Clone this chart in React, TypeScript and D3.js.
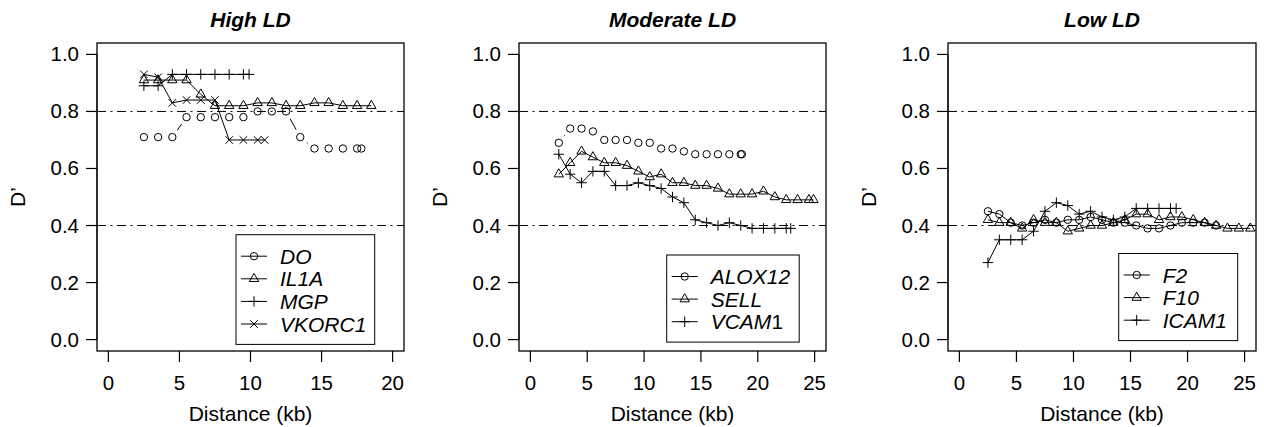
import React from "react";
import * as d3 from "d3";

// ---------- Data ----------
// High LD
const doX = [2.5, 3.5, 4.5, 5.5, 6.5, 7.5, 8.5, 9.5, 10.5, 11.5, 12.5, 13.5, 14.5, 15.5, 16.5, 17.5, 17.8];
const doY = [0.71, 0.71, 0.71, 0.78, 0.78, 0.78, 0.78, 0.78, 0.8, 0.8, 0.8, 0.71, 0.67, 0.67, 0.67, 0.67, 0.67];
const il1aX = [2.5, 3.5, 4.5, 5.5, 6.5, 7.5, 8.5, 9.5, 10.5, 11.5, 12.5, 13.5, 14.5, 15.5, 16.5, 17.5, 18.5];
const il1aY = [0.91, 0.91, 0.91, 0.91, 0.86, 0.82, 0.82, 0.82, 0.83, 0.83, 0.82, 0.82, 0.83, 0.83, 0.82, 0.82, 0.82];
const mgpX = [2.5, 3.5, 4.5, 5.5, 6.5, 7.5, 8.5, 9.5, 9.9];
const mgpY = [0.89, 0.89, 0.93, 0.93, 0.93, 0.93, 0.93, 0.93, 0.93];
const vkorc1X = [2.5, 3.5, 4.5, 5.5, 6.5, 7.5, 8.5, 9.5, 10.5, 11.0];
const vkorc1Y = [0.93, 0.92, 0.83, 0.84, 0.84, 0.84, 0.7, 0.7, 0.7, 0.7];

// Moderate LD
const alox12X = [2.5, 3.5, 4.5, 5.5, 6.5, 7.5, 8.5, 9.5, 10.5, 11.5, 12.5, 13.5, 14.5, 15.5, 16.5, 17.5, 18.5, 18.6];
const alox12Y = [0.69, 0.74, 0.74, 0.73, 0.7, 0.7, 0.7, 0.69, 0.69, 0.67, 0.67, 0.66, 0.65, 0.65, 0.65, 0.65, 0.65, 0.65];
const sellX = [2.5, 3.5, 4.5, 5.5, 6.5, 7.5, 8.5, 9.5, 10.5, 11.5, 12.5, 13.5, 14.5, 15.5, 16.5, 17.5, 18.5, 19.5, 20.5, 21.5, 22.5, 23.5, 24.5, 24.9];
const sellY = [0.58, 0.62, 0.66, 0.64, 0.62, 0.62, 0.61, 0.59, 0.57, 0.58, 0.55, 0.55, 0.54, 0.54, 0.53, 0.51, 0.51, 0.51, 0.52, 0.5, 0.49, 0.49, 0.49, 0.49];
const vcam1X = [2.5, 3.5, 4.5, 5.5, 6.5, 7.5, 8.5, 9.5, 10.5, 11.5, 12.5, 13.5, 14.5, 15.5, 16.5, 17.5, 18.5, 19.5, 20.5, 21.5, 22.5, 22.9];
const vcam1Y = [0.65, 0.58, 0.55, 0.59, 0.59, 0.54, 0.54, 0.55, 0.54, 0.53, 0.5, 0.48, 0.42, 0.41, 0.4, 0.41, 0.4, 0.39, 0.39, 0.39, 0.39, 0.39];

// Low LD
const f2X = [2.5, 3.5, 4.5, 5.5, 6.5, 7.5, 8.5, 9.5, 10.5, 11.5, 12.5, 13.5, 14.5, 15.5, 16.5, 17.5, 18.5, 19.5, 20.5, 21.5, 22.5];
const f2Y = [0.45, 0.44, 0.41, 0.4, 0.41, 0.42, 0.41, 0.42, 0.42, 0.43, 0.42, 0.41, 0.41, 0.4, 0.39, 0.39, 0.4, 0.41, 0.41, 0.41, 0.4];
const f10X = [2.5, 3.5, 4.5, 5.5, 6.5, 7.5, 8.5, 9.5, 10.5, 11.5, 12.5, 13.5, 14.5, 15.5, 16.5, 17.5, 18.5, 19.5, 20.5, 21.5, 22.5, 23.5, 24.5, 25.5];
const f10Y = [0.42, 0.41, 0.41, 0.39, 0.42, 0.41, 0.41, 0.38, 0.39, 0.4, 0.4, 0.41, 0.42, 0.44, 0.44, 0.42, 0.43, 0.43, 0.42, 0.41, 0.4, 0.39, 0.39, 0.39];
const icam1X = [2.5, 3.5, 4.5, 5.5, 6.5, 7.5, 8.5, 9.5, 10.5, 11.5, 12.5, 13.5, 14.5, 15.5, 16.5, 17.5, 18.5, 19.0];
const icam1Y = [0.27, 0.35, 0.35, 0.35, 0.38, 0.45, 0.48, 0.47, 0.44, 0.45, 0.43, 0.42, 0.43, 0.46, 0.46, 0.46, 0.46, 0.46];

const titles = ["High LD", "Moderate LD", "Low LD"];
const yTicks = [0, 0.2, 0.4, 0.6, 0.8, 1.0];
const refLines = [0.4, 0.8];
const xTicksHigh = [0, 5, 10, 15, 20];
const xTicksOther = [0, 5, 10, 15, 20, 25];

type Sym = "circle" | "triangle" | "plus" | "cross";
interface Series { name: string; xs: number[]; ys: number[]; sym: Sym; gapped: boolean; }

const FONT = "'Liberation Sans', Arial, Helvetica, sans-serif";
const TOP = 43, BOTTOM = 351;

const panels = [
  {
    title: titles[0], left: 97, right: 404, xDomain: [-0.8, 20.8], xTicks: xTicksHigh,
    legend: { x: 236, y: 234.7, w: 138.7 },
    series: [
      { name: "DO", xs: doX, ys: doY, sym: "circle", gapped: true },
      { name: "IL1A", xs: il1aX, ys: il1aY, sym: "triangle", gapped: false },
      { name: "MGP", xs: mgpX, ys: mgpY, sym: "plus", gapped: false },
      { name: "VKORC1", xs: vkorc1X, ys: vkorc1Y, sym: "cross", gapped: false },
    ] as Series[],
  },
  {
    title: titles[1], left: 519, right: 826, xDomain: [-1, 26], xTicks: xTicksOther,
    legend: { x: 666.7, y: 255, w: 132.5 },
    series: [
      { name: "ALOX12", xs: alox12X, ys: alox12Y, sym: "circle", gapped: true },
      { name: "SELL", xs: sellX, ys: sellY, sym: "triangle", gapped: false },
      { name: "VCAM1", xs: vcam1X, ys: vcam1Y, sym: "plus", gapped: false },
    ] as Series[],
  },
  {
    title: titles[2], left: 948, right: 1256, xDomain: [-1, 26], xTicks: xTicksOther,
    legend: { x: 1118.7, y: 253.5, w: 119 },
    series: [
      { name: "F2", xs: f2X, ys: f2Y, sym: "circle", gapped: false },
      { name: "F10", xs: f10X, ys: f10Y, sym: "triangle", gapped: false },
      { name: "ICAM1", xs: icam1X, ys: icam1Y, sym: "plus", gapped: false },
    ] as Series[],
  },
];

function symbolPath(sym: Sym, x: number, y: number): string {
  switch (sym) {
    case "circle": {
      const r = 3.7;
      return `M${x - r},${y}a${r},${r} 0 1,0 ${2 * r},0a${r},${r} 0 1,0 ${-2 * r},0Z`;
    }
    case "triangle":
      return `M${x},${y - 5.4}L${x - 4.7},${y + 2.7}L${x + 4.7},${y + 2.7}Z`;
    case "plus":
      return `M${x - 5.2},${y}H${x + 5.2}M${x},${y - 5.2}V${y + 5.2}`;
    case "cross":
      return `M${x - 3.8},${y - 3.8}L${x + 3.8},${y + 3.8}M${x - 3.8},${y + 3.8}L${x + 3.8},${y - 3.8}`;
  }
}

function Legend({ x, y, w, series }: { x: number; y: number; w: number; series: Series[] }) {
  const rowH = 22.6;
  const h = series.length * rowH + 19.3;
  return (
    <g>
      <rect x={x} y={y} width={w} height={h} fill="white" stroke="black" strokeWidth={1} />
      {series.map((s, i) => {
        const cy = y + 21.5 + i * rowH;
        const lx0 = x + 5, lx1 = x + 31;
        const isVcam = s.name === "VCAM1";
        return (
          <g key={s.name}>
            <line x1={lx0} x2={lx1} y1={cy} y2={cy} stroke="black" strokeWidth={1} />
            <path d={symbolPath(s.sym, (lx0 + lx1) / 2, cy)} fill="none" stroke="black" strokeWidth={1} />
            <text x={x + 44} y={cy + 7.5} fontSize={21} fontStyle="italic" fontFamily={FONT}>
              {isVcam ? (<><tspan>VCAM</tspan><tspan fontStyle="normal">1</tspan></>) : s.name}
            </text>
          </g>
        );
      })}
    </g>
  );
}

function Panel({ p }: { p: (typeof panels)[number] }) {
  const x = d3.scaleLinear().domain(p.xDomain).range([p.left, p.right]);
  const y = d3.scaleLinear().domain([-0.04, 1.04]).range([BOTTOM, TOP]);
  const line = d3.line<[number, number]>().x((d) => x(d[0])).y((d) => y(d[1]));
  const cx = (p.left + p.right) / 2;
  const gap = 8.5;

  return (
    <g>
      <text x={cx} y={27} textAnchor="middle" fontSize={21} fontWeight="bold" fontStyle="italic" fontFamily={FONT}>
        {p.title}
      </text>
      {refLines.map((v) => (
        <line key={v} x1={p.left} x2={p.right} y1={y(v)} y2={y(v)} stroke="black" strokeWidth={1} strokeDasharray="9,4.5,2,4.5" />
      ))}
      {p.series.map((s) => {
        const pts: [number, number][] = s.xs.map((xv, i) => [xv, s.ys[i]]);
        let lines: React.ReactNode;
        if (s.gapped) {
          const segs: string[] = [];
          for (let i = 0; i < pts.length - 1; i++) {
            const x1 = x(pts[i][0]), y1 = y(pts[i][1]);
            const x2 = x(pts[i + 1][0]), y2 = y(pts[i + 1][1]);
            const len = Math.hypot(x2 - x1, y2 - y1);
            if (len > 2 * gap) {
              const ux = (x2 - x1) / len, uy = (y2 - y1) / len;
              segs.push(`M${x1 + ux * gap},${y1 + uy * gap}L${x2 - ux * gap},${y2 - uy * gap}`);
            }
          }
          lines = <path d={segs.join("")} fill="none" stroke="black" strokeWidth={1} />;
        } else {
          lines = <path d={line(pts) || ""} fill="none" stroke="black" strokeWidth={1} />;
        }
        return (
          <g key={s.name}>
            {lines}
            {pts.map((d, i) => (
              <path key={i} d={symbolPath(s.sym, x(d[0]), y(d[1]))} fill="none" stroke="black" strokeWidth={1} />
            ))}
          </g>
        );
      })}
      <Legend x={p.legend.x} y={p.legend.y} w={p.legend.w} series={p.series} />
      <rect x={p.left} y={TOP} width={p.right - p.left} height={BOTTOM - TOP} fill="none" stroke="black" strokeWidth={1.3} />
      {/* y axis */}
      <line x1={p.left} x2={p.left} y1={y(0)} y2={y(1)} stroke="black" />
      {yTicks.map((t) => (
        <g key={t}>
          <line x1={p.left - 11} x2={p.left} y1={y(t)} y2={y(t)} stroke="black" strokeWidth={1.2} />
          <text x={p.left - 18} y={y(t) + 7} textAnchor="end" fontSize={20.5} fontFamily={FONT}>
            {d3.format(".1f")(t)}
          </text>
        </g>
      ))}
      <text transform={`translate(${p.left - 72},${(TOP + BOTTOM) / 2}) rotate(-90)`} textAnchor="middle" fontSize={21} fontFamily={FONT}>
        D’
      </text>
      {/* x axis */}
      {p.xTicks.map((t) => (
        <g key={t}>
          <line x1={x(t)} x2={x(t)} y1={BOTTOM} y2={BOTTOM + 11} stroke="black" strokeWidth={1.2} />
          <text x={x(t)} y={390} textAnchor="middle" fontSize={20.5} fontFamily={FONT}>
            {t}
          </text>
        </g>
      ))}
      <text x={cx} y={421} textAnchor="middle" fontSize={21} fontFamily={FONT}>
        Distance (kb)
      </text>
    </g>
  );
}

export default function App() {
  return (
    <svg width={1264} height={427} viewBox="0 0 1264 427" style={{ display: "block", position: "absolute", left: 0, top: 0, background: "white" }}>
      <rect width={1264} height={427} fill="white" />
      {panels.map((p) => (
        <Panel key={p.title} p={p} />
      ))}
    </svg>
  );
}
